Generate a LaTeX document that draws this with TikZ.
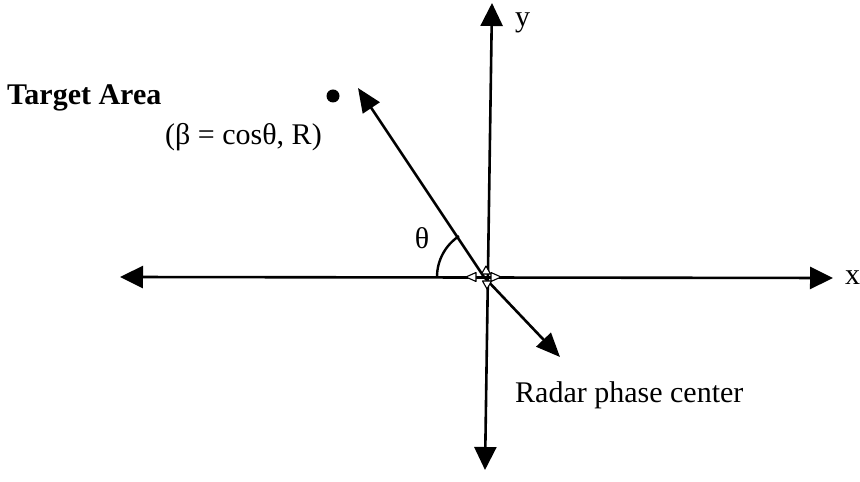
\documentclass[tikz,border=0pt]{standalone}
\usepackage{fontspec}
\setmainfont{Liberation Serif}
\usetikzlibrary{arrows.meta}
\begin{document}
\begin{tikzpicture}[x=1pt,y=1pt,
  axis/.style={line width=2.6pt,{Triangle[length=23pt,width=22pt]}-{Triangle[length=23pt,width=22pt]}},
  ray/.style={line width=2.6pt,-{Triangle[length=24pt,width=20pt]}},
  lbl/.style={inner sep=0pt,font=\fontsize{30}{36}\selectfont},
  tiny/.style={line width=1.1pt,fill=white,line join=round}]
\useasboundingbox (0,0) rectangle (860,482);
% key points
\coordinate (O) at (488,205);
\coordinate (D) at (484,205);
\coordinate (L) at (120,205);
\coordinate (Rt) at (833,204);
\coordinate (T) at (492,479);
\coordinate (B) at (485,12);
\coordinate (U) at (358,394);
\coordinate (W) at (560,125);
% axes
\draw[axis] (L) -- (Rt);
\draw[axis] (B) -- (T);
% direction rays
\draw[ray] (D) -- (U);
\draw[ray] (D) -- (W);
% angle arc
\draw[line width=2.4pt] ([shift={(180:47)}]D) arc[start angle=180,end angle=123.5,radius=49];
% small hollow tips at the origin
\draw[tiny] (466,205) -- (476,209.5) -- (476,200.5) -- cycle;
\draw[tiny] (501,205) -- (491,209.5) -- (491,200.5) -- cycle;
\draw[tiny] (486,216) -- (481.5,208) -- (490.5,208) -- cycle;
\draw[tiny] (487,193) -- (482.5,201) -- (491.5,201) -- cycle;
% target point
\fill (333,386) circle[radius=6.5];
% labels
\node[lbl,anchor=base west,font=\fontsize{30}{36}\selectfont\bfseries] (ta) at (7,377) {Target Area};
\node[lbl,anchor=base west] (bc) at (165,337) {(β = cosθ, R)};
\node[lbl] (th) at (422,244) {θ};
\node[lbl,anchor=base west] (xl) at (845,197) {x};
\node[lbl,anchor=base west] (yl) at (515,455) {y};
\node[lbl,anchor=base west] (rp) at (515,79) {Radar phase center};
\end{tikzpicture}
\end{document}
